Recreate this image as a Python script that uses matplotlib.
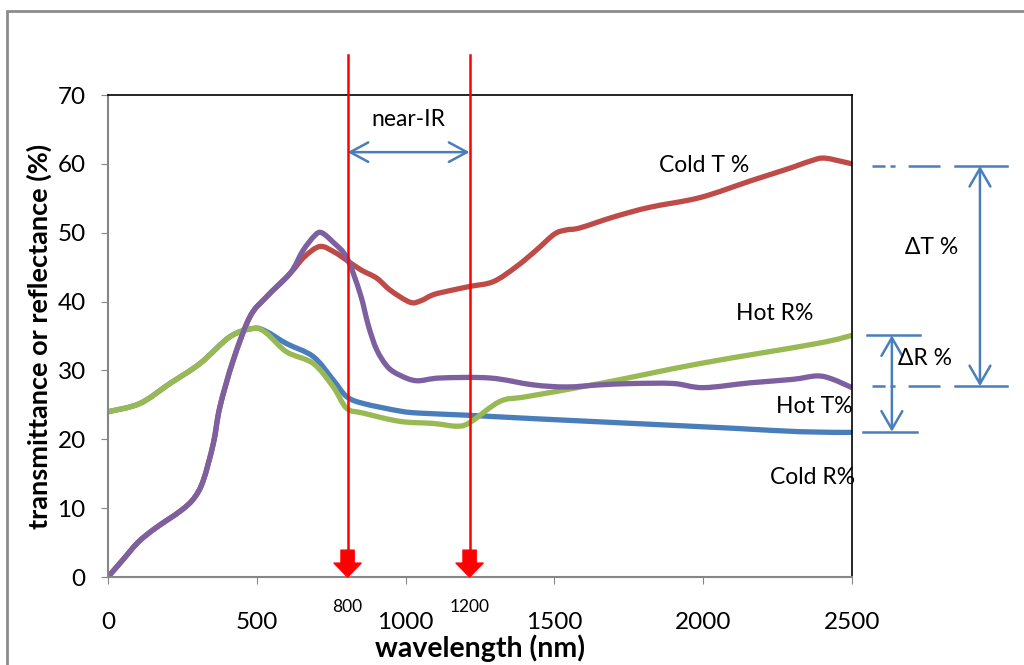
import numpy as np
import matplotlib.pyplot as plt
from matplotlib.patches import Rectangle, PathPatch
from matplotlib.path import Path

plt.rcParams['font.family'] = ['Lato', 'DejaVu Sans']
plt.rcParams['lines.scale_dashes'] = False

# Hot T % (purple)
hot_t_x = [0, 50, 100, 150, 200, 250, 290, 320, 354, 376, 421, 477, 533, 612, 655, 695,
           718, 757, 802, 847, 875, 903, 940, 981, 1037, 1116, 1284, 1429, 1541,
           1650, 1765, 1900, 2000, 2157, 2300, 2381, 2430, 2500]
hot_t_y = [0, 2.5, 5.0, 6.8, 8.3, 9.8, 11.5, 14.0, 19.4, 24.7, 31.5, 37.8, 40.7, 44.1, 47.4, 49.6,
           50.0, 48.6, 46.4, 41.2, 36.5, 33.0, 30.5, 29.3, 28.5, 28.9, 28.9, 27.9, 27.6,
           27.9, 28.1, 28.1, 27.5, 28.2, 28.7, 29.2, 28.8, 27.5]

# Cold T % (red)
cold_t_x = [0, 50, 100, 150, 200, 250, 290, 320, 354, 376, 421, 477, 533, 612, 660, 712,
            760, 802, 850, 903, 950, 1015, 1050, 1093, 1150, 1216, 1295, 1373, 1440, 1500,
            1540, 1586, 1700, 1821, 1989, 2157, 2236, 2300, 2381, 2415, 2460, 2500]
cold_t_y = [0, 2.5, 5.0, 6.8, 8.3, 9.8, 11.5, 14.0, 19.4, 24.7, 31.5, 37.8, 40.7, 44.1, 46.5, 48.0,
            47.2, 46.0, 44.6, 43.4, 41.6, 39.9, 40.1, 41.0, 41.6, 42.2, 42.9, 45.1, 47.5, 49.8,
            50.4, 50.7, 52.3, 53.7, 55.1, 57.5, 58.6, 59.5, 60.7, 60.8, 60.4, 60.0]

# Hot R % (green)
hot_r_x = [0, 107, 208, 309, 410, 488, 530, 600, 690, 757, 802, 858, 981, 1093, 1177,
           1222, 1317, 1407, 1653, 1989, 2381, 2500]
hot_r_y = [24.0, 25.2, 28.1, 31.0, 34.9, 36.1, 35.5, 32.7, 31.0, 27.6, 24.5, 23.8, 22.6, 22.3, 21.9,
           22.6, 25.5, 26.2, 28.1, 31.0, 33.9, 35.1]

# Cold R % (blue)
cold_r_x = [0, 107, 208, 309, 410, 488, 530, 600, 690, 757, 802, 858, 981, 1048, 1205,
            1429, 1765, 2101, 2325, 2500]
cold_r_y = [24.0, 25.2, 28.1, 31.0, 34.9, 36.1, 35.7, 33.9, 32.0, 28.6, 26.2, 25.2, 24.1, 23.8, 23.5,
            23.0, 22.3, 21.6, 21.1, 21.0]

x_ticks = [0, 500, 1000, 1500, 2000, 2500]
y_ticks = [0, 10, 20, 30, 40, 50, 60, 70]
nir_edges = [805, 1215]
nir_labels = ['800', '1200']
delta_t = (59.7, 27.7)
delta_r = (35.1, 21.1)

BLUE = '#4a7ebb'
RED = '#be4b48'
GREEN = '#98b954'
PURPLE = '#7d60a0'
GRAY = '#868686'
FS = 16.5


def smooth_path(xs, ys):
    # excel-like smoothed line: bezier segments through the points
    pts = np.column_stack([xs, ys]).astype(float)
    n = len(pts)
    verts = [pts[0]]
    codes = [Path.MOVETO]
    for i in range(n - 1):
        p0 = pts[max(i - 1, 0)]
        p1 = pts[i]
        p2 = pts[i + 1]
        p3 = pts[min(i + 2, n - 1)]
        verts += [p1 + (p2 - p0) / 6, p2 - (p3 - p1) / 6, p2]
        codes += [Path.CURVE4] * 3
    return Path(verts, codes)


fig = plt.figure(figsize=(10.24, 6.65), dpi=100)
ax = fig.add_axes([108 / 1024, 1 - 577 / 665, (852 - 108) / 1024, (577 - 95) / 665])

# outer chart frame
fig.add_artist(Rectangle((7 / 1024, -0.1), 1.2, 1.1 - 11 / 665, fill=False,
                         edgecolor='#8c8c8c', lw=2, transform=fig.transFigure))

for xs, ys, c in [(cold_r_x, cold_r_y, BLUE), (cold_t_x, cold_t_y, RED),
                  (hot_r_x, hot_r_y, GREEN), (hot_t_x, hot_t_y, PURPLE)]:
    ax.add_patch(PathPatch(smooth_path(xs, ys), fill=False, edgecolor=c, lw=3.8,
                           capstyle='butt', joinstyle='round'))

ax.set_xlim(0, 2500)
ax.set_ylim(0, 70)
ax.set_xticks(x_ticks)
ax.set_yticks(y_ticks)
ax.tick_params(axis='x', labelsize=17.5, pad=20, length=5, color=GRAY)
ax.tick_params(axis='y', labelsize=17.5, pad=11, length=5, color=GRAY)
for s in ['left', 'bottom']:
    ax.spines[s].set_color(GRAY)
    ax.spines[s].set_linewidth(1.5)
for s in ['top', 'right']:
    ax.spines[s].set_color('black')
    ax.spines[s].set_linewidth(1.2)

ax.set_xlabel('wavelength (nm)', fontsize=20.5, fontweight='bold', labelpad=1)
ax.set_ylabel('transmittance or reflectance (%)', fontsize=19.5, fontweight='bold', labelpad=4)

# near-IR band markers
for xe, lab in zip(nir_edges, nir_labels):
    ax.plot([xe, xe], [75.8, 3.6], color='red', lw=1.8, clip_on=False, zorder=5)
    ax.annotate('', xy=(xe, 0), xytext=(xe, 3.9),
                arrowprops=dict(arrowstyle='simple,head_length=1.0,head_width=1.95,tail_width=0.95',
                                color='red', shrinkA=0, shrinkB=0, mutation_scale=10),
                annotation_clip=False, zorder=6)
    ax.text(xe, -0.062, lab, transform=ax.get_xaxis_transform(), ha='center', va='center',
            fontsize=12.5)

ax.annotate('', xy=(nir_edges[0], 61.7), xytext=(nir_edges[1], 61.7),
            arrowprops=dict(arrowstyle='<->,head_length=1.3,head_width=0.7', color=BLUE,
                            lw=1.8, shrinkA=0, shrinkB=0, mutation_scale=10))
ax.text(1008, 66.4, 'near-IR', ha='center', va='center', fontsize=FS)

# series labels
ax.text(2003, 59.8, 'Cold T %', ha='center', va='center', fontsize=FS)
ax.text(2241, 38.3, 'Hot R%', ha='center', va='center', fontsize=FS)
ax.text(2372, 24.7, 'Hot T%', ha='center', va='center', fontsize=FS, clip_on=False)
ax.text(2369, 14.5, 'Cold R%', ha='center', va='center', fontsize=FS, clip_on=False)

# delta T / delta R dimension markers
dd = (0, (9.4, 3.6, 3.6, 9.4, 23, 10))
for yv in delta_t:
    ax.plot([2567, 2796], [yv, yv], color=BLUE, lw=1.8, linestyle=dd, clip_on=False)
    ax.plot([2846, 3021], [yv, yv], color=BLUE, lw=1.8, clip_on=False)
ax.annotate('', xy=(2930, delta_t[0]), xytext=(2930, delta_t[1]),
            arrowprops=dict(arrowstyle='<->,head_length=1.3,head_width=0.75', color=BLUE,
                            lw=1.8, shrinkA=0, shrinkB=0, mutation_scale=10),
            annotation_clip=False)
ax.text(2769, 47.8, 'ΔT %', ha='center', va='center', fontsize=FS, clip_on=False)

ax.plot([2550, 2728], [delta_r[0], delta_r[0]], color=BLUE, lw=1.8, clip_on=False)
ax.plot([2537, 2718], [delta_r[1], delta_r[1]], color=BLUE, lw=1.8, clip_on=False)
ax.annotate('', xy=(2634, delta_r[0]), xytext=(2634, delta_r[1]),
            arrowprops=dict(arrowstyle='<->,head_length=1.3,head_width=0.75', color=BLUE,
                            lw=1.8, shrinkA=0, shrinkB=0, mutation_scale=10),
            annotation_clip=False)
ax.text(2745, 31.8, 'ΔR %', ha='center', va='center', fontsize=FS, clip_on=False)

fig.savefig('out.png', dpi=100)
